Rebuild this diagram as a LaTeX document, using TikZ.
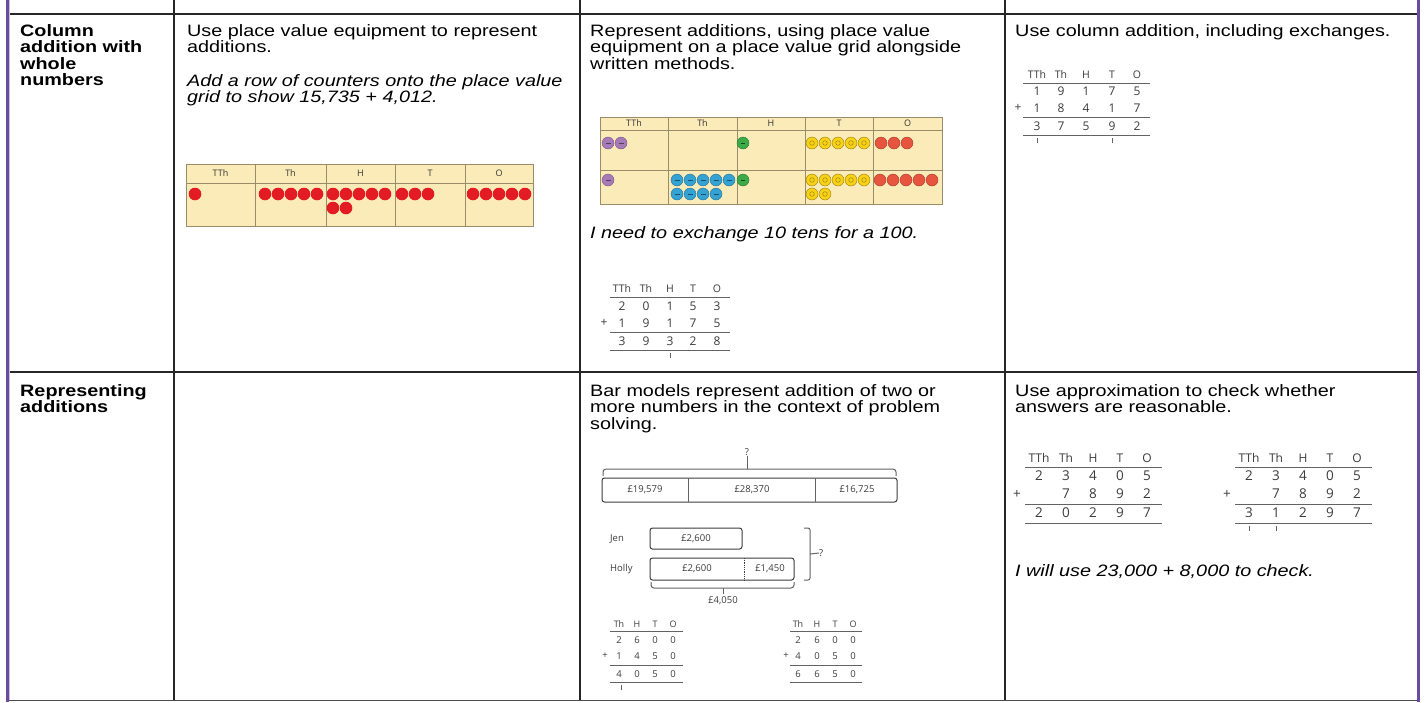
\documentclass[tikz,border=0pt]{standalone}
\usepackage{fontspec}
\setmainfont[FakeStretch=1.2]{Liberation Sans}
\newfontfamily\sumfont{Open Sans}
\usepackage{tikz}
\usetikzlibrary{positioning}

\definecolor{gridfill}{HTML}{FBEBB8}
\definecolor{gridline}{HTML}{9A8C68}
\definecolor{frame}{HTML}{6A4C9C}
\definecolor{cred}{HTML}{E31B23}
\definecolor{cpurple}{HTML}{A77BB8}
\definecolor{cgreen}{HTML}{3DAA48}
\definecolor{cyellow}{HTML}{F7D117}
\definecolor{corange}{HTML}{E8553F}
\definecolor{cblue}{HTML}{35A2D4}
\definecolor{ink}{HTML}{3C3C3C}

\begin{document}
\begin{tikzpicture}[
  x=1pt, y=-1pt,
  rule/.style={line width=1.4pt, draw=black!85},
  edge/.style={line width=3pt, draw=frame},
  txt/.style={anchor=north west, inner sep=0pt, align=left,
              font=\fontsize{16.5}{16.5}\selectfont},
  head/.style={txt, font=\fontsize{16.5}{16.5}\selectfont\bfseries},
  note/.style={txt, font=\fontsize{16.5}{16.5}\selectfont\itshape},
  pv/.style={draw=gridline, fill=gridfill, line width=1pt},
  pvline/.style={draw=gridline, line width=1pt},
  pvlab/.style={inner sep=0pt, text=black!80, font=\sumfont\fontsize{9}{9}\selectfont},
  sumhd/.style={inner sep=0pt, text=ink, font=\sumfont\fontsize{10.5}{11}\selectfont},
  dig/.style={inner sep=0pt, text=ink, font=\sumfont\fontsize{12}{12}\selectfont},
  bighd/.style={inner sep=0pt, text=ink, font=\sumfont\fontsize{12}{12}\selectfont},
  bigdig/.style={inner sep=0pt, text=ink, font=\sumfont\fontsize{13.5}{14}\selectfont},
  smallhd/.style={inner sep=0pt, text=ink, font=\sumfont\fontsize{9}{9}\selectfont},
  smalldig/.style={inner sep=0pt, text=ink, font=\sumfont\fontsize{9.5}{10}\selectfont},
  sumrule/.style={draw=ink!80, line width=1pt},
  bar/.style={draw=ink, line width=1pt, rounded corners=2.5pt},
  barlab/.style={inner sep=0pt, text=ink, font=\sumfont\fontsize{9.5}{10}\selectfont}
]
\fill[white] (0,0) rectangle (1427,702);
\useasboundingbox (0,0) rectangle (1427,702);

% table rules
\draw[rule] (8,14) -- (1418,14);
\draw[rule] (8,372) -- (1418,372);
\draw[rule, draw=black!70] (8,700.5) -- (1418,700.5);
\foreach \x in {174,580,1005} \draw[rule] (\x,0) -- (\x,700);
\draw[edge] (7.5,0) -- (7.5,702);
\draw[frame!35, line width=1pt] (9.5,0) -- (9.5,700);
\draw[edge] (1418.5,0) -- (1418.5,702);

% cell texts
\node[head] (row1) at (20,24) {Column\\addition with\\whole\\numbers};
\node[txt] (t12) at (187,24) {Use place value equipment to represent\\additions.};
\node[note] (n12) at (187,74) {Add a row of counters onto the place value\\grid to show 15,735 + 4,012.};
\node[txt] (t13) at (590,24) {Represent additions, using place value\\equipment on a place value grid alongside\\written methods.};
\node[note] (n13) at (590,226) {I need to exchange 10 tens for a 100.};
\node[txt] (t14) at (1015,24) {Use column addition, including exchanges.};
\node[head] (row2) at (20,384) {Representing\\additions};
\node[txt] (t23) at (590,384) {Bar models represent addition of two or\\more numbers in the context of problem\\solving.};
\node[txt] (t24) at (1015,384) {Use approximation to check whether\\answers are reasonable.};
\node[note] (n24) at (1015,564) {I will use 23,000 + 8,000 to check.};

% place value grid: 15,735
\draw[pv] (186,164) rectangle (533,226);
\draw[pvline] (186,183) -- (533,183);
\foreach \x in {255,326,395,465} \draw[pvline] (\x,164) -- (\x,226);
\foreach \c/\x in {TTh/220.5,Th/290.5,H/360.5,T/430,O/499}
  \node[pvlab] (g1\c) at (\x,173.5) {\c};
\fill[cred] (195,194) circle (6.3);
\foreach \x in {265,278,...,317} \fill[cred] (\x,194) circle (6.3);
\foreach \x in {333,346,...,385} \fill[cred] (\x,194) circle (6.3);
\foreach \x in {333,346} \fill[cred] (\x,208) circle (6.3);
\foreach \x in {402,415,428} \fill[cred] (\x,194) circle (6.3);
\foreach \x in {473,486,...,525} \fill[cred] (\x,194) circle (6.3);

% place value grid: 20,153 + 19,175
\draw[pv] (600,117) rectangle (942,204);
\draw[pvline] (600,130) -- (942,130);
\draw[pvline] (600,170) -- (942,170);
\foreach \x in {668,737,805,873} \draw[pvline] (\x,117) -- (\x,204);
\foreach \c/\x in {TTh/634,Th/702.5,H/771,T/839,O/907.5}
  \node[pvlab] (g2\c) at (\x,123.5) {\c};
\foreach \x/\y in {608/143,621/143,608/180}
  { \filldraw[fill=cpurple, draw=cpurple!70!black] (\x,\y) circle (6);
    \draw[cpurple!50!black] (\x-2.5,\y) -- (\x+2.5,\y); }
\foreach \x/\y in {677/180,690/180,703/180,716/180,729/180,677/194,690/194,703/194,716/194}
  { \filldraw[fill=cblue, draw=cblue!70!black] (\x,\y) circle (6);
    \draw[cblue!50!black] (\x-2.5,\y) -- (\x+2.5,\y); }
\foreach \y in {143,180}
  { \filldraw[fill=cgreen, draw=cgreen!70!black] (743,\y) circle (6);
    \draw[cgreen!40!black] (741,\y) -- (745,\y); }
\foreach \x/\y in {812/143,825/143,838/143,851/143,864/143,812/180,825/180,838/180,851/180,864/180,812/194,825/194}
  { \filldraw[fill=cyellow, draw=cyellow!60!black] (\x,\y) circle (6);
    \draw[cyellow!60!black] (\x,\y) circle (2.3); }
\foreach \x/\y in {881/143,894/143,907/143,880/180,893/180,906/180,919/180,932/180}
  \filldraw[fill=corange, draw=corange!70!black] (\x,\y) circle (6);

% column sum: 20,153 + 19,175
\foreach \c/\x in {TTh/622,Th/646,H/670,T/693,O/717} \node[sumhd] (s1\c) at (\x,289) {\c};
\foreach \d/\x [count=\i] in {2/622,0/646,1/670,5/693,3/717} \node[dig] (s1a\i) at (\x,306) {\d};
\node[dig] (s1p) at (604,323) {+};
\foreach \d/\x [count=\i] in {1/622,9/646,1/670,7/693,5/717} \node[dig] (s1b\i) at (\x,323) {\d};
\foreach \d/\x [count=\i] in {3/622,9/646,3/670,2/693,8/717} \node[dig] (s1c\i) at (\x,341) {\d};
\draw[sumrule] (610,297) -- (730,297);
\draw[sumrule] (610,332) -- (730,332);
\draw[sumrule] (610,350) -- (730,350);
\draw[sumrule] (670,353) -- (670,358);

% column sum: 19,175 + 18,417
\foreach \c/\x in {TTh/1037,Th/1061,H/1086,T/1112,O/1137} \node[sumhd] (s2\c) at (\x,75) {\c};
\foreach \d/\x [count=\i] in {1/1037,9/1061,1/1086,7/1112,5/1137} \node[dig] (s2a\i) at (\x,91) {\d};
\node[dig] (s2p) at (1018,108) {+};
\foreach \d/\x [count=\i] in {1/1037,8/1061,4/1086,1/1112,7/1137} \node[dig] (s2b\i) at (\x,108) {\d};
\foreach \d/\x [count=\i] in {3/1037,7/1061,5/1086,9/1112,2/1137} \node[dig] (s2c\i) at (\x,126) {\d};
\draw[sumrule] (1023,83) -- (1150,83);
\draw[sumrule] (1023,117) -- (1150,117);
\draw[sumrule] (1023,135) -- (1150,135);
\foreach \x in {1037,1112} \draw[sumrule] (\x,138) -- (\x,143);

% bar model: three amounts
\node[barlab] (qtop) at (747,452) {?};
\coordinate (topmid) at (747,469);
\draw[sumrule] (qtop.south) -- (topmid);
\draw[sumrule, rounded corners=3pt] (603,476) |- (896,469) -- (896,476);
\draw[bar] (602,478) rectangle (897,502);
\draw[sumrule] (688,478) -- (688,502);
\draw[sumrule] (815,478) -- (815,502);
\node[barlab] (b1) at (645,490) {£19,579};
\node[barlab] (b2) at (752,490) {£28,370};
\node[barlab] (b3) at (857,490) {£16,725};

% bar model: Jen and Holly
\node[barlab, anchor=west] (jen) at (610,539) {Jen};
\node[barlab, anchor=west] (holly) at (610,569) {Holly};
\draw[bar] (650,528) rectangle (742,549);
\node[barlab] (jenamt) at (696,538.5) {£2,600};
\draw[bar] (650,558) rectangle (794,580);
\draw[draw=ink, densely dotted, line width=0.8pt] (744,558) -- (744,580);
\node[barlab] (hamt1) at (697,569) {£2,600};
\node[barlab] (hamt2) at (770,569) {£1,450};
\draw[sumrule, rounded corners=2pt] (804,528) -| (810,580) -- (804,580);
\coordinate (sidemid) at (810,554);
\node[barlab, anchor=west] (qside) at (819,553) {?};
\draw[sumrule] (sidemid) -- (qside.west);
\draw[sumrule, rounded corners=3pt] (651,582) |- (794,588) -- (794,582);
\coordinate (botmid) at (723,588);
\node[barlab, anchor=north] (total) at (723,596) {£4,050};
\draw[sumrule] (botmid) -- ++(0,6);

% column sum: 2,600 + 1,450
\foreach \c/\x in {Th/619,H/637,T/655,O/673} \node[smallhd] (s3\c) at (\x,624) {\c};
\foreach \d/\x [count=\i] in {2/619,6/637,0/655,0/673} \node[smalldig] (s3a\i) at (\x,640) {\d};
\node[smalldig] (s3p) at (605,656) {+};
\foreach \d/\x [count=\i] in {1/619,4/637,5/655,0/673} \node[smalldig] (s3b\i) at (\x,656) {\d};
\foreach \d/\x [count=\i] in {4/619,0/637,5/655,0/673} \node[smalldig] (s3c\i) at (\x,674) {\d};
\draw[sumrule] (610,631) -- (683,631);
\draw[sumrule] (610,665) -- (683,665);
\draw[sumrule] (610,682) -- (683,682);
\draw[sumrule] (621,685) -- (621,690);

% column sum: 2,600 + 4,050
\foreach \c/\x in {Th/798,H/817,T/835,O/853} \node[smallhd] (s4\c) at (\x,624) {\c};
\foreach \d/\x [count=\i] in {2/798,6/817,0/835,0/853} \node[smalldig] (s4a\i) at (\x,640) {\d};
\node[smalldig] (s4p) at (786,656) {+};
\foreach \d/\x [count=\i] in {4/798,0/817,5/835,0/853} \node[smalldig] (s4b\i) at (\x,656) {\d};
\foreach \d/\x [count=\i] in {6/798,6/817,5/835,0/853} \node[smalldig] (s4c\i) at (\x,674) {\d};
\draw[sumrule] (790,631) -- (862,631);
\draw[sumrule] (790,665) -- (862,665);
\draw[sumrule] (790,682) -- (862,682);

% column sums: 23,405 + 7,892 (wrong and right)
\foreach \c/\x in {TTh/1039,Th/1066,H/1093,T/1120,O/1147} \node[bighd] (s5\c) at (\x,458) {\c};
\foreach \d/\x [count=\i] in {2/1039,3/1066,4/1093,0/1120,5/1147} \node[bigdig] (s5a\i) at (\x,476) {\d};
\node[bigdig] (s5p) at (1017,494) {+};
\foreach \d/\x [count=\i] in {7/1066,8/1093,9/1120,2/1147} \node[bigdig] (s5b\i) at (\x,494) {\d};
\foreach \d/\x [count=\i] in {2/1039,0/1066,2/1093,9/1120,7/1147} \node[bigdig] (s5c\i) at (\x,513) {\d};
\draw[sumrule] (1025,467) -- (1162,467);
\draw[sumrule] (1025,504) -- (1162,504);
\draw[sumrule] (1025,523) -- (1162,523);

\foreach \c/\x in {TTh/1249,Th/1276,H/1303,T/1330,O/1357} \node[bighd] (s6\c) at (\x,458) {\c};
\foreach \d/\x [count=\i] in {2/1249,3/1276,4/1303,0/1330,5/1357} \node[bigdig] (s6a\i) at (\x,476) {\d};
\node[bigdig] (s6p) at (1227,494) {+};
\foreach \d/\x [count=\i] in {7/1276,8/1303,9/1330,2/1357} \node[bigdig] (s6b\i) at (\x,494) {\d};
\foreach \d/\x [count=\i] in {3/1249,1/1276,2/1303,9/1330,7/1357} \node[bigdig] (s6c\i) at (\x,513) {\d};
\draw[sumrule] (1235,467) -- (1372,467);
\draw[sumrule] (1235,504) -- (1372,504);
\draw[sumrule] (1235,523) -- (1372,523);
\foreach \x in {1249,1276} \draw[sumrule] (\x,526) -- (\x,531);
\end{tikzpicture}
\end{document}
